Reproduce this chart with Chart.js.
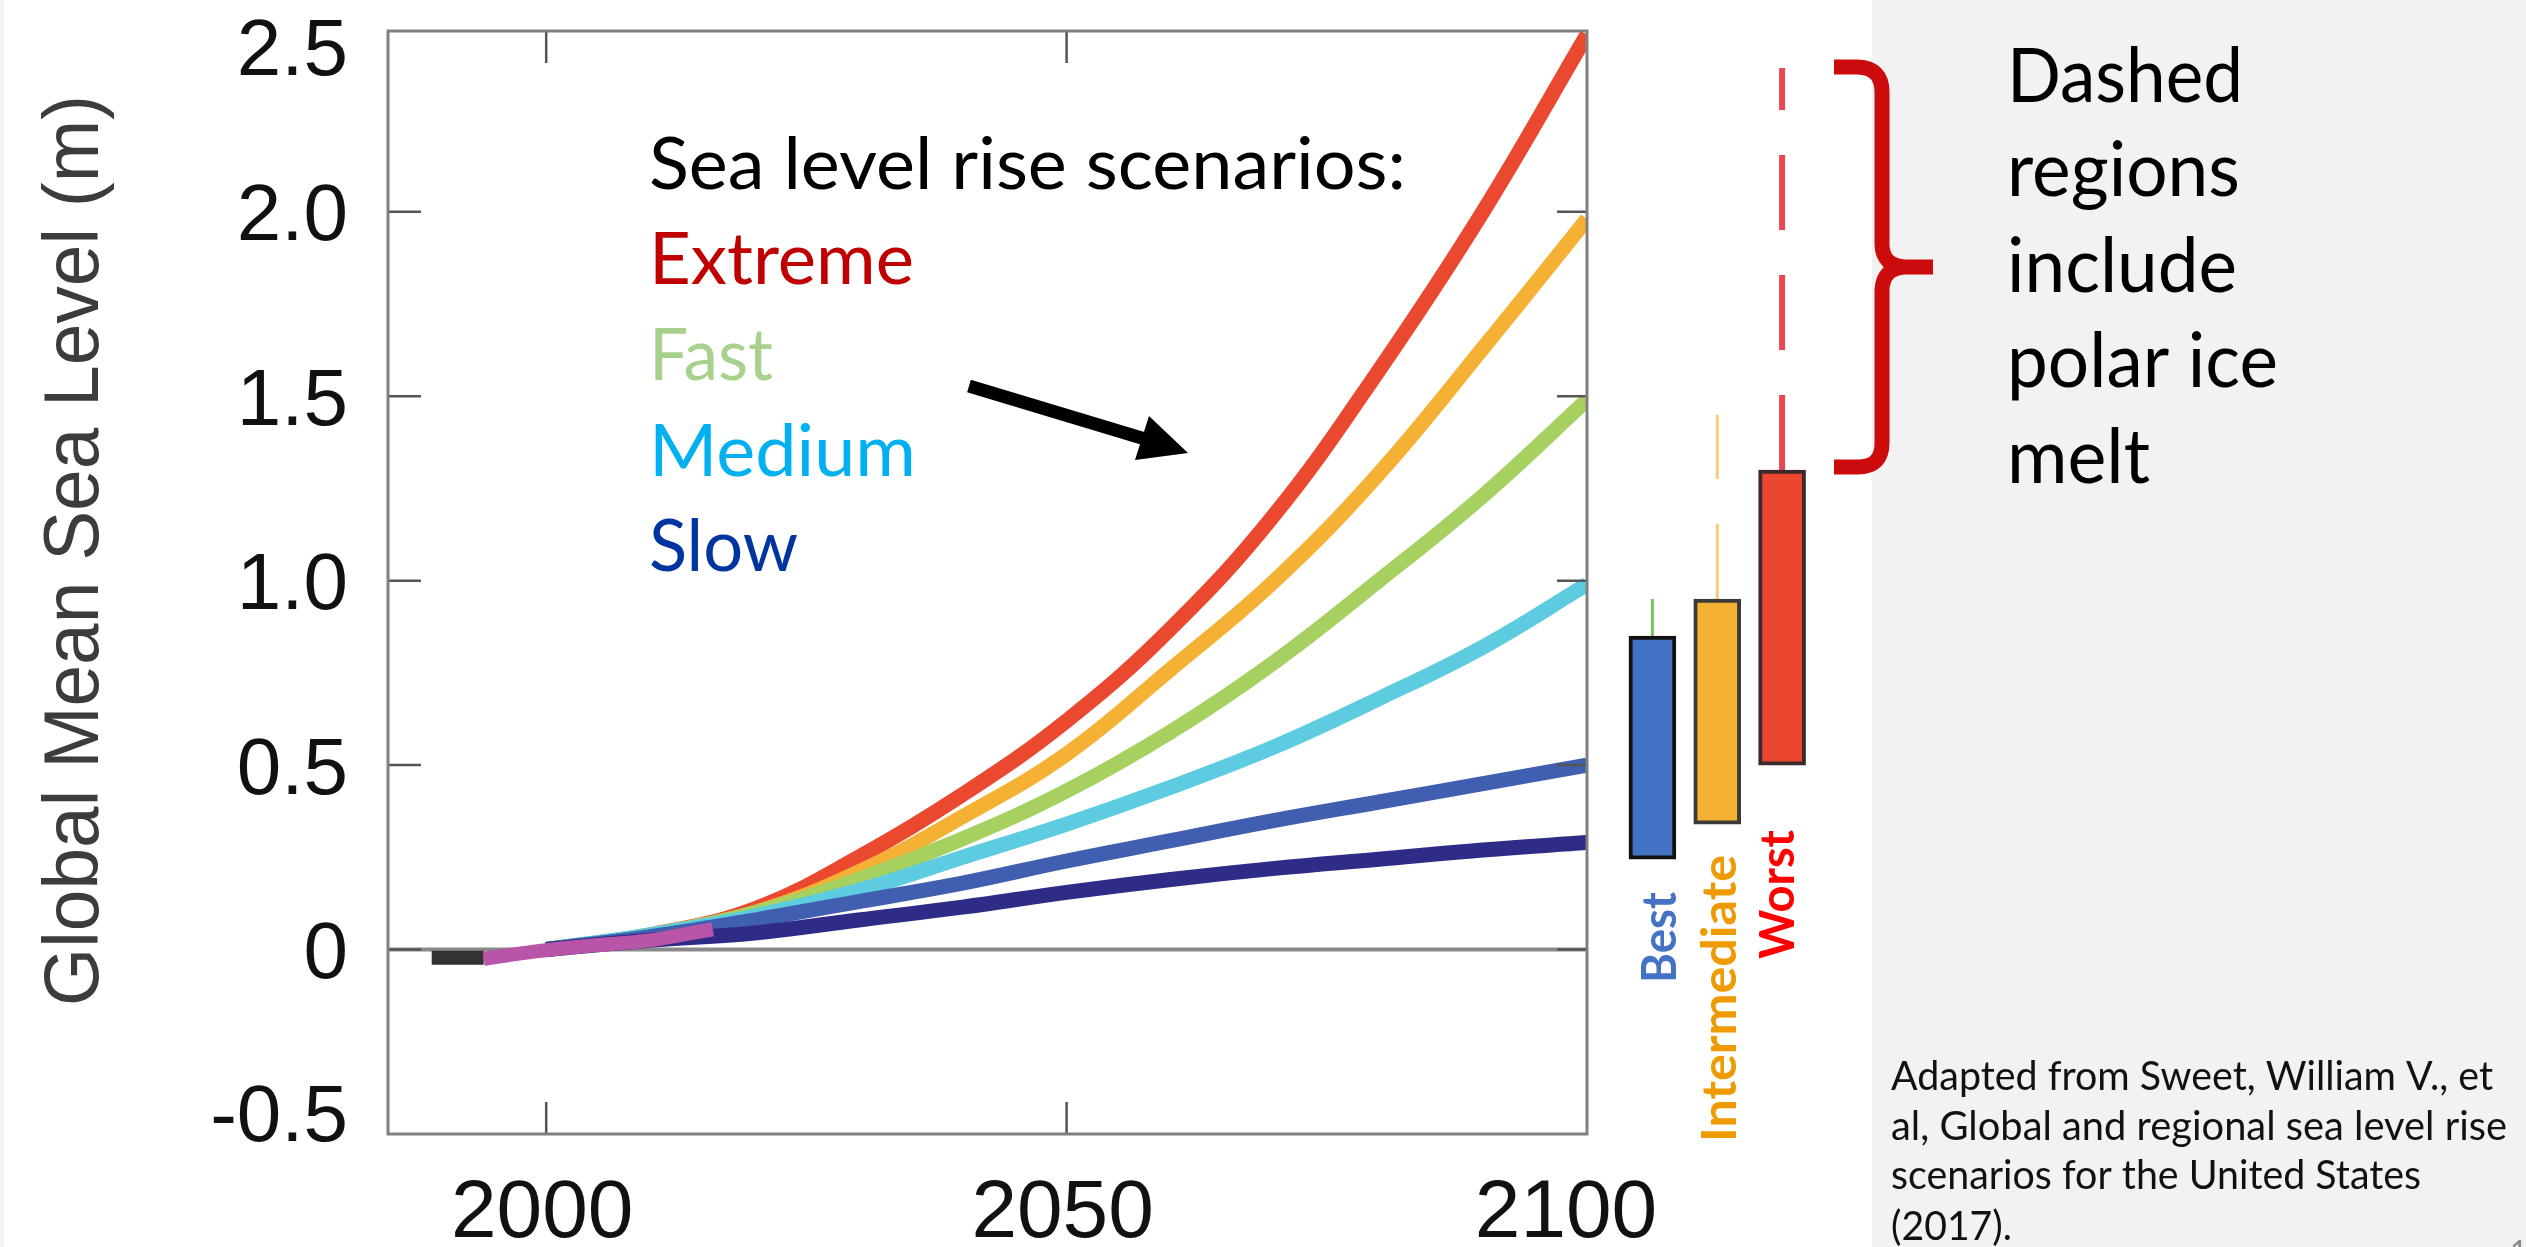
<!DOCTYPE html>
<html>
<head>
<meta charset="utf-8">
<title>Sea level rise scenarios</title>
<script src="https://cdn.jsdelivr.net/npm/chart.js@4.4.1/dist/chart.umd.min.js"></script>
<style>
  html, body { margin: 0; padding: 0; background: #ffffff; }
  #wrap { position: relative; width: 2526px; height: 1247px; overflow: hidden; }
  #main { position: absolute; left: 0; top: 0; }
  #boxes { position: absolute; left: 1600px; top: 0; }
</style>
</head>
<body>
<div id="wrap">
  <canvas id="main" width="2526" height="1247"></canvas>
  <canvas id="boxes" width="230" height="1247"></canvas>
</div>
<script>
// ======================================
// Data
// ======================================

const years    = [2000, 2010, 2020, 2030, 2040, 2050, 2060, 2070, 2080, 2090, 2100];
const extreme  = [0, 0.04, 0.11, 0.25, 0.42, 0.62, 0.87, 1.18, 1.57, 2.00, 2.48];
const high     = [0, 0.04, 0.10, 0.21, 0.36, 0.53, 0.76, 1.00, 1.29, 1.63, 1.98];
const intHigh  = [0, 0.04, 0.10, 0.19, 0.30, 0.43, 0.59, 0.78, 1.00, 1.23, 1.49];
const interm   = [0, 0.04, 0.09, 0.16, 0.25, 0.34, 0.44, 0.55, 0.68, 0.82, 0.99];
const intLow   = [0, 0.035, 0.08, 0.13, 0.18, 0.24, 0.295, 0.35, 0.40, 0.45, 0.50];
const low      = [0, 0.025, 0.045, 0.08, 0.115, 0.155, 0.19, 0.22, 0.245, 0.27, 0.29];

// observed record
const tideYears  = [1989, 1994];
const tideLevel  = [-0.022, -0.022];
const satYears   = [1994, 1999, 2004, 2010, 2013, 2016];
const satLevel   = [-0.025, -0.005, 0.01, 0.025, 0.04, 0.055];

// axes
const xTicks      = [2000, 2050, 2100];
const yTicks      = [-0.5, 0, 0.5, 1, 1.5, 2, 2.5];
const yTickLabels = ["-0.5", "0", "0.5", "1.0", "1.5", "2.0", "2.5"];

// 2100 ranges
const boxNames   = ["Best", "Intermediate", "Worst"];
const boxLow     = [0.245, 0.34, 0.50];
const boxHigh    = [0.85, 0.95, 1.30];
const whiskerTop = [0.95, 1.45, 2.39];

// ======================================
// Helpers
// ======================================

const pts = (xs, ys) => xs.map((x, i) => ({ x: x, y: ys[i] }));

// draw text stretched / squeezed to a given width
function fitText(ctx, text, x, y, width, font, color, rot) {
    ctx.save();
    ctx.font = font;
    ctx.fillStyle = color;
    ctx.textAlign = "left";
    ctx.textBaseline = "alphabetic";
    ctx.translate(x, y);
    if (rot) ctx.rotate(rot);
    const w = ctx.measureText(text).width;
    ctx.scale(width / w, 1);
    ctx.fillText(text, 0, 0);
    ctx.restore();
}

// ===========================
// Main chart decorations
// ===========================

const frame = {
    id: "frame",

    beforeDraw(chart) {
        const ctx = chart.ctx;
        ctx.save();
        ctx.fillStyle = "#ffffff";
        ctx.fillRect(0, 0, chart.width, chart.height);
        ctx.fillStyle = "#f2f2f2";
        ctx.fillRect(1872, 0, chart.width - 1872, chart.height);
        ctx.fillRect(0, 0, 4, chart.height);
        ctx.restore();
    },

    beforeDatasetsDraw(chart) {
        const ctx = chart.ctx;
        const a = chart.chartArea;
        const y0 = chart.scales.y.getPixelForValue(0);
        ctx.save();
        ctx.strokeStyle = "#8a8a8a";
        ctx.lineWidth = 4;
        ctx.beginPath();
        ctx.moveTo(a.left, y0);
        ctx.lineTo(a.right, y0);
        ctx.stroke();
        ctx.restore();
    },

    afterDatasetsDraw(chart) {
        const ctx = chart.ctx;
        const a = chart.chartArea;
        const xs = chart.scales.x;
        const ys = chart.scales.y;

        ctx.save();

        // inside tick marks
        ctx.strokeStyle = "#555555";
        ctx.lineWidth = 2.5;
        ctx.beginPath();
        yTicks.forEach(v => {
            const y = ys.getPixelForValue(v);
            if (y <= a.top + 2 || y >= a.bottom - 2) return;
            ctx.moveTo(a.left, y);
            ctx.lineTo(a.left + 33, y);
            ctx.moveTo(a.right, y);
            ctx.lineTo(a.right - 30, y);
        });
        xTicks.forEach(v => {
            const x = xs.getPixelForValue(v);
            if (x >= a.right - 2) return;
            ctx.moveTo(x, a.bottom);
            ctx.lineTo(x, a.bottom - 32);
            ctx.moveTo(x, a.top);
            ctx.lineTo(x, a.top + 32);
        });
        ctx.stroke();

        // frame
        ctx.strokeStyle = "#808080";
        ctx.lineWidth = 3;
        ctx.strokeRect(a.left, a.top, a.right - a.left, a.bottom - a.top);

        // tick labels
        ctx.fillStyle = "#111111";
        ctx.font = "80px 'Liberation Sans', Arial, sans-serif";
        ctx.textAlign = "right";
        ctx.textBaseline = "alphabetic";
        yTicks.forEach((v, i) => {
            let y = ys.getPixelForValue(v);
            y = Math.min(Math.max(y, a.top + 15), a.bottom - 22);
            ctx.fillText(yTickLabels[i], a.left - 40, y + 28.6);
        });

        ctx.font = "82px 'Liberation Sans', Arial, sans-serif";
        ctx.textAlign = "center";
        xTicks.forEach(v => {
            let x = xs.getPixelForValue(v) - 4;
            x = Math.min(x, a.right - 21);
            ctx.fillText(String(v), x, 1237);
        });

        ctx.restore();
    },

    afterDraw(chart) {
        const ctx = chart.ctx;

        // y axis title
        fitText(ctx, "Global Mean Sea Level (m)", 98, 1006, 911,
            "77px 'Liberation Sans Narrow', 'Liberation Sans', sans-serif", "#3c3c3c", -Math.PI / 2);

        // scenario legend text
        const lato72 = "72px Lato, 'Open Sans', sans-serif";
        fitText(ctx, "Sea level rise scenarios:", 649, 189, 757, lato72, "#000000");
        fitText(ctx, "Extreme", 649, 284, 265, lato72, "#c00000");
        fitText(ctx, "Fast", 649, 380, 124, lato72, "#a9d18e");
        fitText(ctx, "Medium", 649, 476, 267, lato72, "#00b0f0");
        fitText(ctx, "Slow", 649, 571, 149, lato72, "#0035a0");

        // arrow
        ctx.save();
        ctx.strokeStyle = "#000000";
        ctx.fillStyle = "#000000";
        ctx.lineWidth = 13;
        ctx.beginPath();
        ctx.moveTo(969, 386);
        ctx.lineTo(1145, 439);
        ctx.stroke();
        ctx.beginPath();
        ctx.moveTo(1188, 453);
        ctx.lineTo(1149, 416);
        ctx.lineTo(1135, 460);
        ctx.closePath();
        ctx.fill();
        ctx.restore();

        // red brace
        ctx.save();
        ctx.strokeStyle = "#cc0c0c";
        ctx.lineWidth = 15;
        ctx.lineJoin = "round";
        ctx.beginPath();
        ctx.moveTo(1834, 67);
        ctx.lineTo(1858, 67);
        ctx.quadraticCurveTo(1882, 68, 1882, 92);
        ctx.lineTo(1882, 245);
        ctx.quadraticCurveTo(1883, 266, 1905, 267);
        ctx.lineTo(1933, 267);
        ctx.moveTo(1905, 267);
        ctx.quadraticCurveTo(1883, 268, 1882, 290);
        ctx.lineTo(1882, 443);
        ctx.quadraticCurveTo(1882, 467, 1858, 467);
        ctx.lineTo(1834, 467);
        ctx.stroke();
        ctx.restore();

        // note
        const lato75 = "75px Lato, 'Open Sans', sans-serif";
        fitText(ctx, "Dashed", 2007, 102, 236, lato75, "#000000");
        fitText(ctx, "regions", 2007, 196, 233, lato75, "#000000");
        fitText(ctx, "include", 2007, 292, 230, lato75, "#000000");
        fitText(ctx, "polar ice", 2007, 387, 271, lato75, "#000000");
        fitText(ctx, "melt", 2007, 483, 143, lato75, "#000000");

        // source
        const lato41 = "41px Lato, 'Open Sans', sans-serif";
        fitText(ctx, "Adapted from Sweet, William V., et", 1891, 1090, 602, lato41, "#111111");
        fitText(ctx, "al, Global and regional sea level rise", 1891, 1140, 616, lato41, "#111111");
        fitText(ctx, "scenarios for the United States", 1891, 1189, 530, lato41, "#111111");
        fitText(ctx, "(2017).", 1891, 1240, 121, lato41, "#111111");

        // slide number
        ctx.save();
        ctx.fillStyle = "#8a8a8a";
        ctx.font = "30px Lato, sans-serif";
        ctx.fillText("1", 2510, 1262);
        ctx.restore();
    }
};

// ===========================
// Scenario lines
// ===========================

const lineStyle = {
    type: "line",
    borderWidth: 15,
    pointRadius: 0,
    fill: false,
    tension: 0.4
};

new Chart(document.getElementById("main"), {
    type: "line",
    data: {
        datasets: [
            { ...lineStyle, label: "Observed (satellite)", data: pts(satYears, satLevel), borderColor: "#b855a8", borderWidth: 14 },
            { ...lineStyle, label: "Observed (tide gauge)", data: pts(tideYears, tideLevel), borderColor: "#333333", borderWidth: 14 },
            { ...lineStyle, label: "Low", data: pts(years, low), borderColor: "#2e2c86" },
            { ...lineStyle, label: "Intermediate-Low", data: pts(years, intLow), borderColor: "#405fb0" },
            { ...lineStyle, label: "Intermediate", data: pts(years, interm), borderColor: "#5ecce0" },
            { ...lineStyle, label: "Intermediate-High", data: pts(years, intHigh), borderColor: "#a6d160" },
            { ...lineStyle, label: "High", data: pts(years, high), borderColor: "#f5b133" },
            { ...lineStyle, label: "Extreme", data: pts(years, extreme), borderColor: "#eb4830" }
        ]
    },
    options: {
        responsive: false,
        animation: false,
        devicePixelRatio: 1,
        layout: { padding: { left: 388, top: 31, right: 939, bottom: 113 } },
        scales: {
            x: { type: "linear", min: 1984.8, max: 2100, display: false },
            y: { type: "linear", min: -0.5, max: 2.49, display: false }
        },
        plugins: {
            legend: { display: false },
            tooltip: { enabled: false }
        }
    },
    plugins: [frame]
});

// ===========================
// 2100 range boxes
// ===========================

const boxLabels = {
    id: "boxLabels",
    afterDraw(chart) {
        const ctx = chart.ctx;
        const xs = chart.scales.x;
        const font = "bold 48px Lato, 'Open Sans', sans-serif";
        const spec = [
            { dx: 24, y: 983, w: 91, color: "#4472c4" },
            { dx: 19, y: 1142, w: 287, color: "#ee9a00" },
            { dx: 12, y: 959, w: 129, color: "#ff0000" }
        ];
        boxNames.forEach((name, i) => {
            const s = spec[i];
            fitText(ctx, name, xs.getPixelForValue(i) + s.dx, s.y, s.w, font, s.color, -Math.PI / 2);
        });
    }
};

new Chart(document.getElementById("boxes"), {
    data: {
        labels: boxNames,
        datasets: [
            {
                type: "bar",
                data: boxNames.map((n, i) => [boxLow[i], boxHigh[i]]),
                backgroundColor: ["#4472c4", "#f4b030", "#ea4630"],
                borderColor: ["#111111", "#3a3a3a", "#3a2a2a"],
                borderWidth: 4,
                borderSkipped: false,
                barThickness: 47
            },
            {
                type: "line",
                data: [{ x: boxNames[0], y: boxHigh[0] }, { x: boxNames[0], y: whiskerTop[0] }],
                borderColor: "#7cc35a",
                borderWidth: 3,
                pointRadius: 0
            },
            {
                type: "line",
                data: [{ x: boxNames[1], y: boxHigh[1] }, { x: boxNames[1], y: whiskerTop[1] }],
                borderColor: "#f9c97a",
                borderWidth: 3,
                borderDash: [75, 45],
                pointRadius: 0
            },
            {
                type: "line",
                data: [{ x: boxNames[2], y: boxHigh[2] }, { x: boxNames[2], y: whiskerTop[2] }],
                borderColor: "#e8474f",
                borderWidth: 6,
                borderDash: [75, 45],
                pointRadius: 0
            }
        ]
    },
    options: {
        responsive: false,
        animation: false,
        devicePixelRatio: 1,
        layout: { padding: { left: 20, top: 31, right: 15.5, bottom: 113 } },
        scales: {
            x: { type: "category", offset: true, display: false },
            y: { type: "linear", min: -0.5, max: 2.49, display: false }
        },
        plugins: {
            legend: { display: false },
            tooltip: { enabled: false }
        }
    },
    plugins: [boxLabels]
});
</script>
</body>
</html>
